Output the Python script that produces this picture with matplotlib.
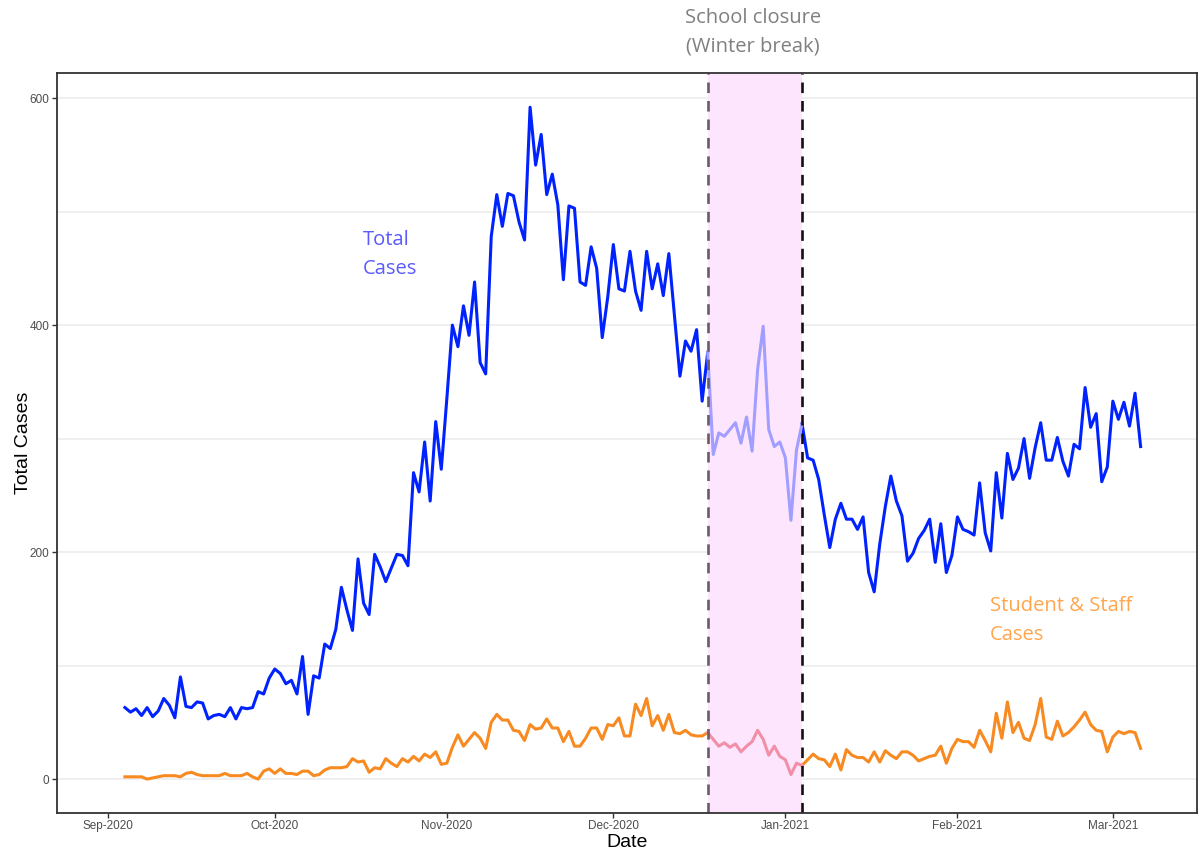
import datetime as dt
import matplotlib
matplotlib.use('Agg')
import matplotlib.pyplot as plt
import matplotlib.dates as mdates
import numpy as np
import pandas as pd

# daily counts, 2020-09-04 .. 2021-03-06
dates = pd.date_range('2020-09-04', '2021-03-06', freq='D')

total_cases = [
    # Sep
    63, 59, 62, 56, 63, 55, 60, 71, 65, 54, 90, 64, 63, 68, 67, 53, 56, 57, 55, 63, 53, 63, 62, 63, 77, 75, 89,
    # Oct
    97, 93, 84, 87, 75, 108, 57, 91, 89, 119, 115, 132, 169, 149, 131, 194, 155, 145, 198, 187, 174, 186,
    198, 197, 188, 270, 253, 297, 245, 315, 273,
    # Nov
    335, 400, 381, 417, 391, 438, 367, 357, 478, 515, 487, 516, 514, 491, 475, 592, 541, 568, 515, 533,
    506, 440, 505, 503, 438, 435, 469, 450, 389, 425,
    # Dec
    471, 432, 430, 465, 430, 413, 465, 432, 454, 426, 463, 409, 355, 386, 377, 396, 333, 376, 286, 305,
    302, 308, 314, 296, 319, 289, 361, 399, 308, 293, 297,
    # Jan
    283, 228, 290, 313, 283, 281, 264, 233, 204, 229, 243, 229, 229, 220, 231, 182, 165, 207, 240, 267,
    245, 232, 192, 199, 212, 219, 229, 191, 225, 182, 197,
    # Feb
    231, 220, 218, 215, 261, 217, 201, 270, 230, 287, 264, 274, 300, 265, 292, 314, 281, 281, 301, 280,
    267, 295, 291, 345, 310, 322, 262, 275,
    # Mar
    333, 317, 332, 311, 340, 293,
]

school_cases = [
    # Sep
    2, 2, 2, 2, 0, 1, 2, 3, 3, 3, 2, 5, 6, 4, 3, 3, 3, 3, 5, 3, 3, 3, 5, 2, 0, 7, 9,
    # Oct
    5, 9, 5, 5, 4, 7, 7, 3, 4, 8, 10, 10, 10, 11, 18, 15, 16, 6, 10, 9, 18, 14, 11, 18, 15, 20, 16, 22, 19, 24, 13,
    # Nov
    14, 28, 39, 29, 35, 41, 36, 27, 50, 57, 52, 52, 43, 42, 34, 48, 44, 45, 53, 45, 45, 33, 42, 29, 29,
    36, 45, 45, 35, 48,
    # Dec
    47, 54, 38, 38, 66, 56, 71, 47, 56, 43, 57, 41, 40, 43, 39, 38, 38, 41, 35, 29, 32, 28, 31, 24, 29,
    33, 43, 35, 21, 29, 20,
    # Jan
    17, 4, 14, 12, 17, 22, 18, 17, 11, 22, 8, 26, 21, 19, 19, 15, 24, 15, 25, 21, 18, 24, 24, 21, 16,
    18, 20, 21, 29, 14, 27,
    # Feb
    35, 33, 33, 28, 43, 34, 24, 58, 36, 68, 41, 50, 36, 34, 48, 71, 37, 35, 51, 38, 41, 46, 52, 59, 48, 43, 42, 24,
    # Mar
    37, 42, 40, 42, 41, 27,
]

break_start = pd.Timestamp('2020-12-18')
break_end = pd.Timestamp('2021-01-04')
tick_dates = pd.date_range('2020-09-01', '2021-03-01', freq='MS')
y_major = [0, 200, 400, 600]
y_minor = [100, 300, 500]

total = np.array(total_cases, dtype=float)
school = np.array(school_cases, dtype=float)
in_break = (dates >= break_start) & (dates <= break_end)
inside = (dates > break_start) & (dates < break_end)

fig = plt.figure(figsize=(12.03, 8.55), dpi=100)
ax = fig.add_axes([0.0476, 0.0495, 0.9474, 0.8648])

# horizontal grid only
for v in y_major + y_minor:
    ax.axhline(v, color='#ebebeb', lw=1.1, zorder=0)

ax.axvspan(break_start, break_end, color='#fde6fd', lw=0, zorder=1)

ax.plot(dates, np.where(inside, np.nan, total), color='#0022ff', lw=2.2, zorder=3)
ax.plot(dates, np.where(inside, np.nan, school), color='#f88a22', lw=2.2, zorder=3)
# lighter look of the lines inside the shaded winter break
ax.plot(dates, np.where(in_break, total, np.nan), color='#a29eff', lw=2.2, zorder=4)
ax.plot(dates, np.where(in_break, school, np.nan), color='#f28fa8', lw=2.2, zorder=4)

ax.axvline(break_start, color='#6a5a6a', lw=1.9, ls=(0, (4, 3)), zorder=5)
ax.axvline(break_end, color='#111111', lw=1.9, ls=(0, (4, 3)), zorder=5)

x0 = mdates.date2num(dt.datetime(2020, 9, 1))
ax.set_xlim(x0 - 9.19, x0 + 196.16)
ax.set_ylim(-29.6, 621.9)

ax.set_xticks(tick_dates)
ax.xaxis.set_major_formatter(mdates.DateFormatter('%b-%Y'))
ax.set_yticks(y_major)
ax.set_yticklabels([str(v) for v in y_major])
for lab in ax.get_xticklabels() + ax.get_yticklabels():
    lab.set_family('Liberation Sans')
    lab.set_fontsize(8.5)
    lab.set_color('#4d4d4d')
ax.tick_params(length=3.5, width=1, color='#333333', pad=2)

for s in ax.spines.values():
    s.set_color('#333333')
    s.set_linewidth(1.3)
    s.set_zorder(6)

ax.set_xlabel('Date', fontsize=14, family='Liberation Sans', labelpad=1)
ax.set_ylabel('Total Cases', fontsize=14, family='Liberation Sans')
ax.yaxis.set_label_coords(-0.022, 0.5)

note_font = ['Open Sans', 'DejaVu Sans']
ax.text(0.268, 0.755, 'Total\nCases', transform=ax.transAxes, color='#5a5aff',
        fontsize=14.5, family=note_font, ha='left', va='center', linespacing=1.55)
ax.text(0.818, 0.26, 'Student & Staff\nCases', transform=ax.transAxes, color='#ffa64d',
        fontsize=14.5, family=note_font, ha='left', va='center', linespacing=1.55)
fig.text(0.626, 0.962, 'School closure\n(Winter break)', color='#7f7f7f',
         fontsize=14.5, family=note_font, ha='center', va='center', linespacing=1.55)

fig.savefig('out.png', dpi=100)
